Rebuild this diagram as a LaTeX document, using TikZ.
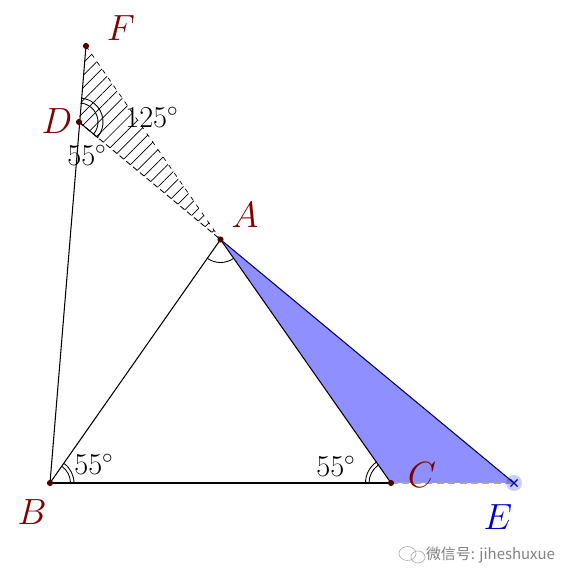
\documentclass[tikz,border=0pt]{standalone}
\usepackage{fontspec}
\newfontfamily\cjk{Noto Sans CJK SC}
\usetikzlibrary{angles,calc,patterns.meta}
\definecolor{ptred}{RGB}{128,0,0}
\definecolor{ptdot}{RGB}{80,0,0}
\definecolor{eblue}{RGB}{0,0,204}
\definecolor{fillblue}{RGB}{143,143,255}

\begin{document}
\begin{tikzpicture}[line width=0.6pt,
  pt/.style={shape=circle, fill=ptdot, inner sep=0pt, minimum size=3.5pt},
  lbl/.style={text=ptred, font=\fontsize{22}{24}\selectfont},
  deg/.style={font=\fontsize{17}{20}\selectfont},
  angmark/.style={draw, line width=0.5pt}]
\useasboundingbox (0,0) rectangle (11.4,11.62);

\coordinate (B) at (1.00, 1.96);
\coordinate (C) at (7.82, 1.96);
\coordinate (A) at (4.41, 6.83);
\coordinate (E) at (10.28, 1.96);
\coordinate (D) at (1.58, 9.18);
\coordinate (F) at (1.72, 10.70);

\fill[fillblue] (A) -- (C) -- (E) -- cycle;
\pattern[pattern={Lines[angle=45, distance=5pt, line width=0.4pt]}] (D) -- (F) -- (A) -- cycle;
\path [draw=black, line width=0.4pt, dash pattern=on 2.5pt off 3pt] (F) edge (A);
\path [draw=black, line width=0.5pt, dash pattern=on 3pt off 2pt] (D) edge (A);
\draw (D) -- ($(D)!0.5cm!(A)$);

\path [-, draw=black] (B) edge (F);
\path [-, draw=black] (B) edge (A);
\path [-, draw=black] (A) edge (C);
\path [-, draw=black] (B) edge (C);
\path [-, draw=blue!45!black] (A) edge (E);
\path [-, draw=gray!70, dash pattern=on 4pt off 2.5pt] (C) edge (E);

\pic [angmark, angle radius=0.38cm] {angle = A--D--F};
\pic [angmark, angle radius=0.48cm] {angle = A--D--F};
\pic [angmark, angle radius=0.41cm] {angle = C--B--A};
\pic [angmark, angle radius=0.48cm] {angle = C--B--A};
\pic [angmark, angle radius=0.44cm] {angle = A--C--B};
\pic [angmark, angle radius=0.51cm] {angle = A--C--B};
\pic [angmark, angle radius=0.46cm] {angle = B--A--C};

\node[pt] (pB) at (B) {};
\node[pt] (pC) at (C) {};
\node[pt] (pA) at (A) {};
\node[pt] (pD) at (D) {};
\node[pt] (pF) at (F) {};
\node[shape=circle, fill=eblue, fill opacity=0.2, inner sep=0pt, minimum size=0.32cm] (pE) at (E) {};
\draw[eblue, line width=0.8pt] ($(E)+(-0.07,-0.07)$) -- ($(E)+(0.07,0.07)$);
\draw[eblue, line width=0.8pt] ($(E)+(-0.07,0.07)$) -- ($(E)+(0.07,-0.07)$);

\node[lbl] (lF) at (2.42, 11.06) {$F$};
\node[lbl] (lD) at (1.14, 9.20) {$D$};
\node[lbl] (lA) at (4.90, 7.32) {$A$};
\node[lbl] (lB) at (0.64, 1.38) {$B$};
\node[lbl] (lC) at (8.44, 2.12) {$C$};
\node[lbl, text=eblue] (lE) at (9.96, 1.28) {$E$};

\node[deg] (d125) at (3.04, 9.28) {$125^\circ$};
\node[deg] (dD) at (1.74, 8.52) {$55^\circ$};
\node[deg] (dB) at (1.88, 2.34) {$55^\circ$};
\node[deg] (dC) at (6.72, 2.30) {$55^\circ$};

\draw[gray!60, line width=0.4pt] (8.15, 0.55) ellipse (0.17 and 0.14);
\draw[gray!60, line width=0.4pt] (8.36, 0.48) ellipse (0.14 and 0.12);
\node[text=gray, font=\cjk\fontsize{8.5}{10}\selectfont] (wm) at (9.81, 0.52) {微信号: jiheshuxue};
\end{tikzpicture}
\end{document}
